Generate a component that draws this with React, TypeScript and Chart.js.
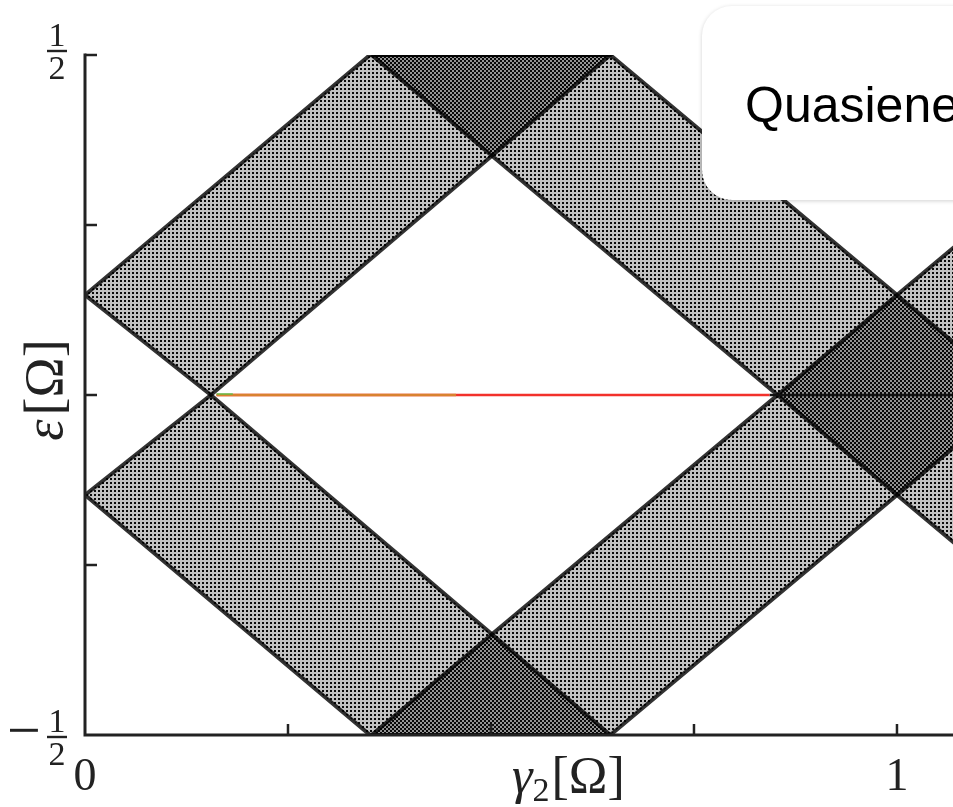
import React, { useEffect, useRef } from 'react';
import { Chart, registerables } from 'chart.js';

Chart.register(...registerables);

// ---- axis ranges ----
const gammaMin = 0;
const gammaMax = 1.069;
const epsMin = -0.5;
const epsMax = 0.5;

// ---- band regions (γ2, ε) ----
const bandA1Gamma = [0, 0.351, 0.647, 0.155, 0];
const bandA1Eps = [0.147, 0.5, 0.5, 0, 0.147];
const bandB1Gamma = [0, 0.351, 0.647, 0.155, 0];
const bandB1Eps = [-0.147, -0.5, -0.5, 0, -0.147];
const bandA2Gamma = [0.353, 0.647, 1.1, 1.1, 0.353];
const bandA2Eps = [-0.5, -0.5, -0.047, 0.247, -0.5];
const bandB2Gamma = [0.353, 0.647, 1.1, 1.1, 0.353];
const bandB2Eps = [0.5, 0.5, 0.047, -0.247, 0.5];

// ---- zero-energy edge-state lines ----
const redLineGamma = [0.162, 0.843];
const redLineEps = [0, 0];
const orangeLineGamma = [0.162, 0.457];
const orangeLineEps = [0, 0];
const greenLineGamma = [0.162, 0.182];
const greenLineEps = [0.0015, 0.0015];
const blackLineGamma = [0.843, 1.1];
const blackLineEps = [0, 0];

// ---- ticks & labels ----
const xTickValues = [0, 0.25, 0.5, 0.75, 1];
const xTickLabels = ['0', '', '', '', '1'];
const yTickValues = [-0.5, -0.25, 0, 0.25, 0.5];
const yTickLabels = ['−1/2', '', '', '', '1/2'];
const xTitleParts = ['γ', '2', '[Ω]'];
const yTitleParts = ['ε', '[Ω]'];
const cardTitle = 'Quasienergy spectrum';

const pts = (xs: number[], ys: number[]) => xs.map((x, i) => ({ x, y: ys[i] }));

function makePattern(offset: number): CanvasPattern | string {
  const c = document.createElement('canvas');
  c.width = 4;
  c.height = 4;
  const g = c.getContext('2d');
  if (!g) return 'rgba(0,0,0,0.45)';
  g.fillStyle = 'rgba(0,0,0,0.24)';
  g.fillRect(0, 0, 4, 4);
  g.fillStyle = 'rgba(0,0,0,0.95)';
  g.fillRect(offset, offset, 2, 2);
  const p = g.createPattern(c, 'repeat');
  return p || 'rgba(0,0,0,0.45)';
}

const SERIF = '"Liberation Serif", "DejaVu Serif", serif';

const axesPlugin = {
  id: 'latexAxes',
  afterDatasetsDraw(chart: any) {
    const { ctx, scales } = chart;
    const xs = scales.x;
    const ys = scales.y;
    const x0 = xs.getPixelForValue(0);
    const yTop = ys.getPixelForValue(epsMax);
    const yBot = ys.getPixelForValue(epsMin);
    ctx.save();
    ctx.strokeStyle = '#222';
    ctx.lineCap = 'butt';
    // axis lines
    ctx.lineWidth = 3;
    ctx.beginPath();
    ctx.moveTo(x0, yTop - 1.5);
    ctx.lineTo(x0, yBot);
    ctx.lineTo(chart.width + 2, yBot);
    ctx.stroke();
    // y ticks (inside)
    ctx.lineWidth = 2.5;
    yTickValues.forEach((v) => {
      const py = ys.getPixelForValue(v);
      if (v === epsMin) return;
      ctx.beginPath();
      ctx.moveTo(x0, py);
      ctx.lineTo(x0 + 12, py);
      ctx.stroke();
    });
    // x ticks (inside)
    xTickValues.forEach((v) => {
      if (v === 0) return;
      const px = xs.getPixelForValue(v);
      ctx.beginPath();
      ctx.moveTo(px, yBot);
      ctx.lineTo(px, yBot - 11);
      ctx.stroke();
    });
    ctx.fillStyle = '#222';
    // x tick labels
    ctx.font = `46px ${SERIF}`;
    ctx.textAlign = 'center';
    ctx.textBaseline = 'alphabetic';
    xTickValues.forEach((v, i) => {
      const lab = xTickLabels[i];
      if (!lab) return;
      ctx.fillText(lab, xs.getPixelForValue(v), yBot + 55);
    });
    // y tick labels as stacked fractions
    yTickValues.forEach((v, i) => {
      const lab = yTickLabels[i];
      if (!lab) return;
      const neg = lab.startsWith('−');
      const [num, den] = lab.replace('−', '').split('/');
      const py = ys.getPixelForValue(v);
      const cx = 57;
      const off = neg ? 3 : -3;
      ctx.font = `34px ${SERIF}`;
      ctx.textAlign = 'center';
      ctx.fillText(num, cx, py + off - 6);
      ctx.fillText(den, cx, py + off + 27);
      ctx.lineWidth = 2.4;
      ctx.beginPath();
      ctx.moveTo(cx - 10, py + off - 1);
      ctx.lineTo(cx + 10, py + off - 1);
      ctx.stroke();
      if (neg) {
        ctx.font = `60px ${SERIF}`;
        ctx.textAlign = 'center';
        ctx.fillText('−', 24, py + 15);
      }
    });
    // x title  γ2[Ω]
    {
      const base = yBot + 58;
      let cx = 512;
      ctx.textAlign = 'left';
      ctx.font = `italic 52px ${SERIF}`;
      ctx.fillText(xTitleParts[0], cx, base);
      cx += ctx.measureText(xTitleParts[0]).width;
      ctx.font = `34px ${SERIF}`;
      ctx.fillText(xTitleParts[1], cx, base + 8);
      cx += ctx.measureText(xTitleParts[1]).width + 2;
      ctx.font = `52px ${SERIF}`;
      ctx.fillText(xTitleParts[2], cx, base);
    }
    // y title ε[Ω] rotated
    {
      ctx.save();
      ctx.translate(62, 390);
      ctx.rotate(-Math.PI / 2);
      ctx.font = `italic 54px ${SERIF}`;
      const w1 = ctx.measureText(yTitleParts[0]).width;
      ctx.font = `54px ${SERIF}`;
      const w2 = ctx.measureText(yTitleParts[1]).width;
      const start = -(w1 + w2 + 4) / 2;
      ctx.textAlign = 'left';
      ctx.font = `italic 54px ${SERIF}`;
      ctx.fillText(yTitleParts[0], start, 0);
      ctx.font = `54px ${SERIF}`;
      ctx.fillText(yTitleParts[1], start + w1 + 4, 0);
      ctx.restore();
    }
    ctx.restore();
  },
};

export default function App() {
  const canvasRef = useRef<HTMLCanvasElement | null>(null);

  useEffect(() => {
    const canvas = canvasRef.current;
    if (!canvas) return;
    const patA = makePattern(0);
    const patB = makePattern(2);
    const band = (label: string, xs: number[], ys: number[], bg: any) => ({
      label,
      data: pts(xs, ys),
      fill: 'shape',
      backgroundColor: bg,
      borderColor: 'rgba(0,0,0,0.8)',
      borderWidth: 4,
      pointRadius: 0,
      tension: 0,
      order: 5,
    });
    const line = (label: string, xs: number[], ys: number[], color: string, w: number, order: number) => ({
      label,
      data: pts(xs, ys),
      fill: false,
      borderColor: color,
      borderWidth: w,
      pointRadius: 0,
      tension: 0,
      order,
    });
    const chart = new Chart(canvas, {
      type: 'line',
      data: {
        datasets: [
          band('band A', bandA1Gamma, bandA1Eps, patA),
          band('band B', bandB1Gamma, bandB1Eps, patB),
          band('band A (folded)', bandA2Gamma, bandA2Eps, patA),
          band('band B (folded)', bandB2Gamma, bandB2Eps, patB),
          line('edge states', blackLineGamma, blackLineEps, '#111', 2.5, 4),
          line('edge state 1', redLineGamma, redLineEps, '#f2312b', 2.5, 3),
          line('edge state 2', orangeLineGamma, orangeLineEps, '#d9822f', 2.5, 2),
          line('edge state 3', greenLineGamma, greenLineEps, '#44c94a', 1.2, 1),
        ] as any,
      },
      options: {
        animation: false,
        responsive: false,
        events: [],
        layout: { padding: { left: 85, right: 0, top: 55, bottom: 72 } },
        plugins: { legend: { display: false }, tooltip: { enabled: false }, title: { display: false } },
        scales: {
          x: { type: 'linear', min: gammaMin, max: gammaMax, display: false },
          y: { type: 'linear', min: epsMin, max: epsMax, display: false },
        },
      },
      plugins: [axesPlugin],
    });
    return () => chart.destroy();
  }, []);

  return (
    <div
      style={{
        position: 'fixed',
        left: 0,
        top: 0,
        width: 953,
        height: 807,
        overflow: 'hidden',
        background: '#fff',
      }}
    >
      <canvas ref={canvasRef} width={953} height={807} style={{ display: 'block', width: 953, height: 807 }} />
      <div
        style={{
          position: 'absolute',
          left: 702,
          top: 6,
          width: 420,
          height: 194,
          background: '#fff',
          borderRadius: 30,
          boxShadow: '0 1px 4px rgba(0,0,0,0.18)',
        }}
      >
        <div
          style={{
            position: 'absolute',
            left: 43,
            top: 74,
            fontFamily: '"Liberation Sans", Arial, Helvetica, sans-serif',
            fontSize: 50,
            lineHeight: '50px',
            whiteSpace: 'nowrap',
            color: '#000',
          }}
        >
          {cardTitle}
        </div>
      </div>
    </div>
  );
}
